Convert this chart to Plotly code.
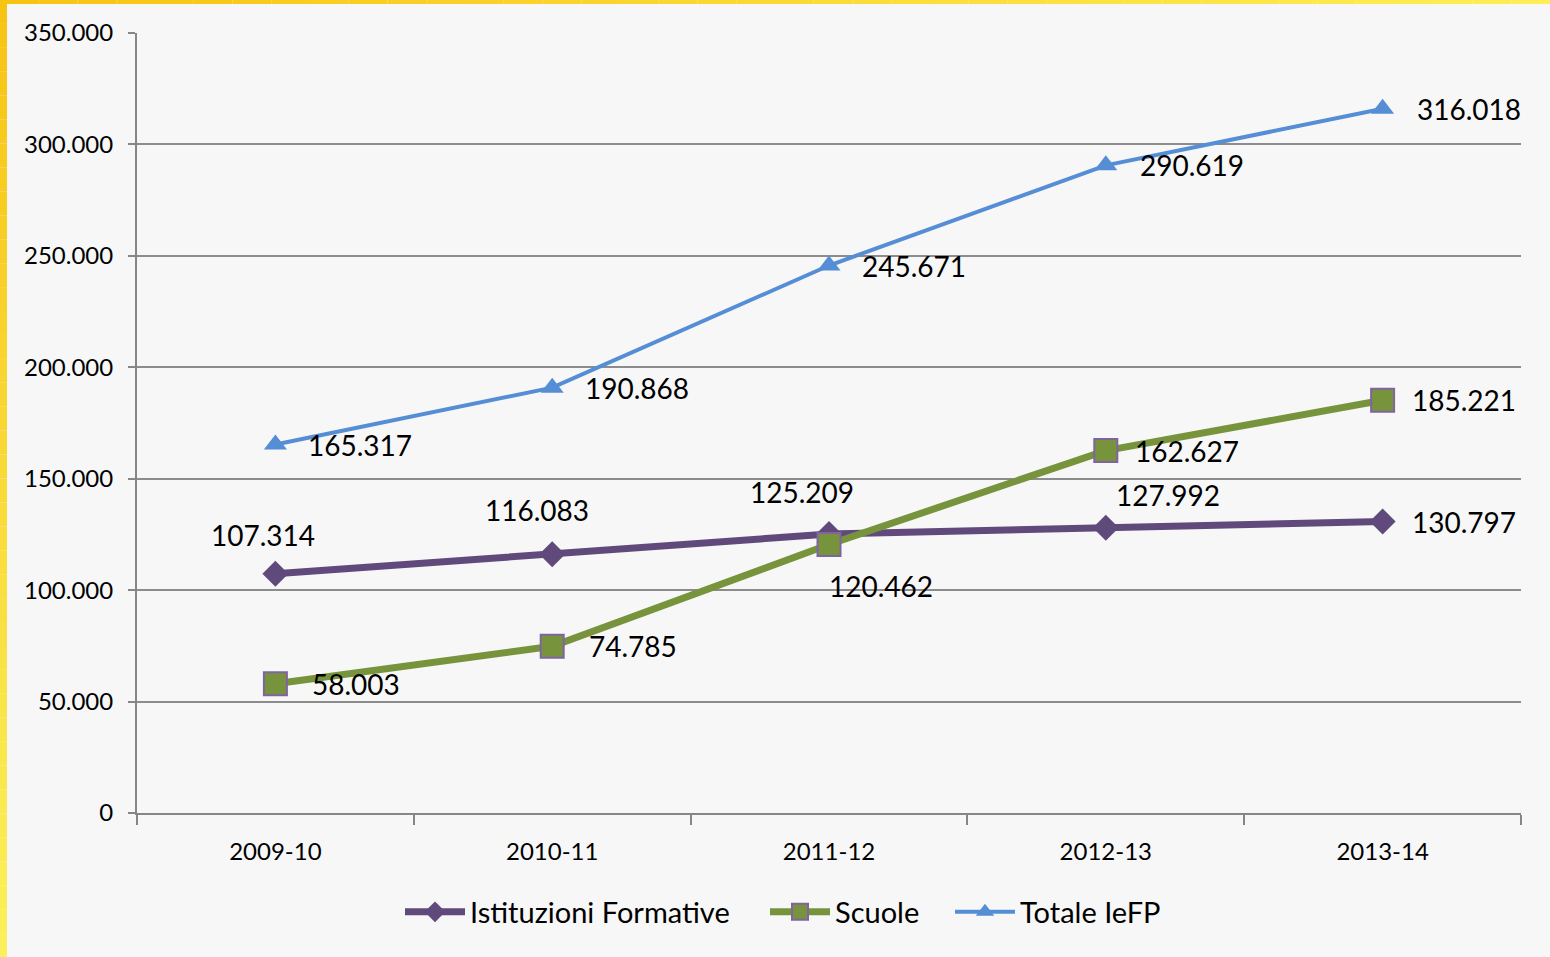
import plotly.graph_objects as go

categories = ["2009-10", "2010-11", "2011-12", "2012-13", "2013-14"]
istituzioni = [107314, 116083, 125209, 127992, 130797]
scuole = [58003, 74785, 120462, 162627, 185221]
totale = [165317, 190868, 245671, 290619, 316018]

FONT = "Lato"
W, H = 1550, 957
L, R, T, B = 137, 29, 33, 144
PW, PH = W - L - R, H - T - B

def fmt(v):
    return f"{v:,}".replace(",", ".")

def px_x(px):
    return (px - L) / PW

def px_y(py):
    return (H - B - py) / PH

fig = go.Figure()

fig.add_trace(go.Scatter(
    x=categories, y=istituzioni, name="Istituzioni Formative", mode="lines+markers",
    line=dict(color="#604A7B", width=7), legend="legend",
    marker=dict(symbol="diamond", size=20, color="#604A7B", line=dict(width=0)),
))
fig.add_trace(go.Scatter(
    x=categories, y=scuole, name="Scuole", mode="lines+markers",
    line=dict(color="#77933C", width=7), legend="legend2",
    marker=dict(symbol="square", size=23, color="#77933C", line=dict(color="#8064A2", width=2)),
))
fig.add_trace(go.Scatter(
    x=categories, y=totale, name="Totale IeFP", mode="lines+markers",
    line=dict(color="#558ED5", width=4), legend="legend3",
    marker=dict(symbol="triangle-up", size=20, color="#558ED5", line=dict(width=0)),
))

# label offsets (px) for each series: (xshift, yshift)
off_ist = [(-12, 39), (-15, 44), (-27, 42), (62, 33), (81, 0)]
off_scu = [(81, 0), (81, 0), (52, -41), (81, 0), (81, 0)]
off_tot = [(85, 0), (85, 0), (85, 0), (86, 0), (86, 0)]

annotations = []
for vals, offs in ((istituzioni, off_ist), (scuole, off_scu), (totale, off_tot)):
    for c, v, (dx, dy) in zip(categories, vals, offs):
        annotations.append(dict(
            x=c, y=v, xref="x", yref="y", text=fmt(v), showarrow=False,
            xanchor="center", yanchor="middle", xshift=dx, yshift=dy,
            font=dict(family=FONT, size=28, color="black"),
        ))

def lerp(c1, c2, t):
    return "#%02X%02X%02X" % tuple(int(round(a + (b - a) * t)) for a, b in zip(c1, c2))

shapes = []
N = 40
gold = (247, 196, 20)
light = (250, 240, 90)
for i in range(N):
    t = i / (N - 1)
    y0 = H * i / N
    y1 = H * (i + 1) / N
    shapes.append(dict(type="rect", xref="paper", yref="paper", layer="below",
                       x0=px_x(0), x1=px_x(7), y0=px_y(y1), y1=px_y(y0),
                       fillcolor=lerp(gold, light, t), line=dict(width=0)))
    x0 = W * i / N
    x1 = W * (i + 1) / N
    shapes.append(dict(type="rect", xref="paper", yref="paper", layer="below",
                       x0=px_x(x0), x1=px_x(x1), y0=px_y(4), y1=px_y(0),
                       fillcolor=lerp(gold, (255, 238, 85), t), line=dict(width=0)))

def legend_at(px):
    return dict(orientation="h", x=px_x(px), xanchor="left", y=px_y(912), yanchor="middle",
                font=dict(family=FONT, size=29, color="black"), itemwidth=60,
                bgcolor="rgba(0,0,0,0)", borderwidth=0)

fig.update_layout(
    width=W, height=H,
    margin=dict(l=L, r=R, t=T, b=B, pad=0),
    paper_bgcolor="#F7F7F7", plot_bgcolor="#F7F7F7",
    separators=",.",
    font=dict(family=FONT, color="black"),
    showlegend=True,
    legend=legend_at(400),
    legend2=legend_at(765),
    legend3=legend_at(950),
    xaxis=dict(type="category", range=[-0.5, 4.5], tickson="boundaries",
               ticks="outside", ticklen=10, tickcolor="#868686", tickwidth=2,
               showline=True, linecolor="#868686", linewidth=2, showgrid=False,
               tickfont=dict(family=FONT, size=24, color="black"),
               ticklabelstandoff=16),
    yaxis=dict(range=[0, 350000], dtick=50000, tick0=0, tickformat=",d",
               ticks="outside", ticklen=7, tickcolor="#868686", tickwidth=2,
               showline=True, linecolor="#868686", linewidth=2,
               showgrid=True, gridcolor="#8C8C8C", gridwidth=2, zeroline=False,
               tickfont=dict(family=FONT, size=24, color="black"),
               ticklabelstandoff=10),
    annotations=annotations,
    shapes=shapes,
)

fig.write_html("out.html", config={"displayModeBar": False},
               post_script="document.body.style.margin='0';document.body.style.padding='0';")
